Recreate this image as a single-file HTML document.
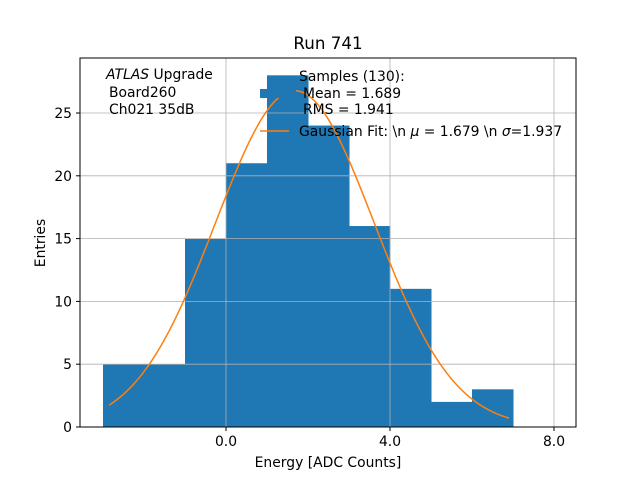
<!DOCTYPE html>
<html><head><meta charset="utf-8"><style>
body{margin:0;background:#fff}
svg{display:block;font-family:"DejaVu Sans","Liberation Sans",sans-serif}
</style></head><body>
<svg id="c" width="640" height="480" viewBox="0 0 640 480">
<rect width="640" height="480" fill="#fff"/>
<g id="bars"></g><g id="grid"></g><g id="curve"></g>
<rect x="80" y="58" width="496" height="369" fill="none" stroke="#000" stroke-width="1"/>
<g id="ticks"></g>
<text x="328" y="49" font-size="16.7" text-anchor="middle">Run 741</text>
<text x="328" y="467" font-size="13.9" text-anchor="middle">Energy [ADC Counts]</text>
<text transform="translate(45,243) rotate(-90)" font-size="13.9" text-anchor="middle">Entries</text>
<g font-size="13.9">
<text x="106" y="79"><tspan font-style="italic">ATLAS</tspan> Upgrade</text>
<text x="109" y="97">Board260</text>
<text x="109" y="114">Ch021 35dB</text>
</g>
<g>
<rect x="260" y="89" width="36" height="9" fill="#1f77b4"/>
<text x="299" y="81" font-size="13.9">Samples (130):</text>
<text x="303" y="98" font-size="13.9">Mean = 1.689</text>
<text x="303" y="114" font-size="13.9">RMS = 1.941</text>
<line x1="260" y1="131" x2="289" y2="131" stroke="#ff7f0e" stroke-width="1.5"/>
<text x="299" y="136" font-size="13.9">Gaussian Fit: \n <tspan font-style="italic">μ</tspan> = 1.679 \n <tspan font-style="italic">σ</tspan>=1.937</text>
</g>
</svg>
<script>
const binEdges=[-3,-2,-1,0,1,2,3,4,5,6,7];
const counts=[5,5,15,21,28,24,16,11,2,3];
const xTicks=[0,4,8];
const xTickLabels=["0.0","4.0","8.0"];
const yTicks=[0,5,10,15,20,25];
const fitParams=[130,1.679,1.937];
const fitRange=[-2.85,6.9];
const NS='http://www.w3.org/2000/svg';
const X=v=>226+v*41, Y=v=>427-v*12.56;
function mk(t,a,p){const e=document.createElementNS(NS,t);for(const k in a)e.setAttribute(k,a[k]);p.appendChild(e);return e;}
const bars=document.getElementById('bars');
counts.forEach((c,i)=>{const r=mk('rect',{x:X(binEdges[i]),y:Y(c),width:X(binEdges[i+1])-X(binEdges[i])+0.5,height:Y(0)-Y(c),fill:'#1f77b4'},bars);

});
const grid=document.getElementById('grid'),ticks=document.getElementById('ticks');
xTicks.forEach((v,i)=>{mk('line',{x1:X(v),x2:X(v),y1:58,y2:427,stroke:'#b0b0b0','stroke-width':0.8},grid);
mk('line',{x1:X(v),x2:X(v),y1:427,y2:431,stroke:'#000'},ticks);
const t=mk('text',{x:X(v),y:446,'font-size':13.9,'text-anchor':'middle'},ticks);t.textContent=xTickLabels[i];

});
yTicks.forEach(v=>{mk('line',{x1:80,x2:576,y1:Y(v),y2:Y(v),stroke:'#b0b0b0','stroke-width':0.8},grid);
mk('line',{x1:76,x2:80,y1:Y(v),y2:Y(v),stroke:'#000'},ticks);
const t=mk('text',{x:72,y:Y(v)+5,'font-size':13.9,'text-anchor':'end'},ticks);t.textContent=v;

});
const [N,mu,sg]=fitParams,A=N/(Math.sqrt(2*Math.PI)*sg);
let d='';for(let k=0;k<=200;k++){const x=fitRange[0]+(fitRange[1]-fitRange[0])*k/200;const y=A*Math.exp(-((x-mu)**2)/(2*sg*sg));d+=(k?'L':'M')+X(x).toFixed(2)+','+Y(y).toFixed(2);}
const p=mk('path',{d:d,fill:'none',stroke:'#ff7f0e','stroke-width':1.5},document.getElementById('curve'));


</script>
</body></html>
